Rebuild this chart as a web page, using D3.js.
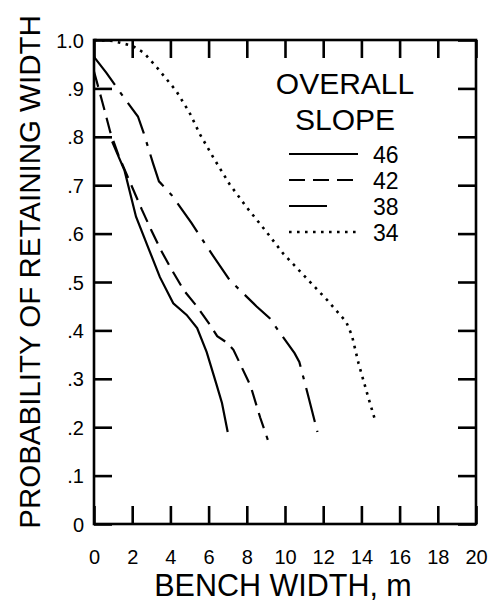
<!DOCTYPE html>
<html>
<head>
<meta charset="utf-8">
<script src="https://cdn.jsdelivr.net/npm/d3@7"></script>
<style>
  body { margin: 0; background: #fff; }
  svg { display: block; font-family: "Liberation Sans", Arial, sans-serif; }
</style>
</head>
<body>
<svg id="chart" width="495" height="600"></svg>
<script>
// overall slope of each curve (legend order)
const slopes = ["46", "42", "38", "34"];

// bench width (m) and probability of retaining width
const width46 = [0.95, 1.6, 2.2, 2.9, 3.45, 4.15, 4.85, 5.4, 5.9, 6.4, 6.7, 7.0];
const prob46 = [0.79, 0.73, 0.635, 0.565, 0.51, 0.456, 0.432, 0.405, 0.355, 0.29, 0.25, 0.19];

const width42 = [0, 0.45, 0.85, 1.3, 1.9, 2.5, 3.0, 3.5, 4.0, 4.7, 5.4, 6.1, 6.45, 6.95, 7.3, 7.6, 8.2, 8.7, 9.1];
const prob42 = [0.935, 0.87, 0.81, 0.76, 0.705, 0.65, 0.607, 0.566, 0.53, 0.483, 0.449, 0.41, 0.388, 0.375, 0.36, 0.335, 0.285, 0.22, 0.174];

const width38 = [0, 0.65, 1.15, 1.7, 2.3, 2.6, 3.1, 3.4, 4.1, 5.1, 6.15, 7.1, 8.5, 9.2, 9.7, 10.5, 10.75, 11.2, 11.7];
const prob38 = [0.965, 0.932, 0.904, 0.874, 0.842, 0.808, 0.744, 0.708, 0.678, 0.622, 0.559, 0.504, 0.45, 0.425, 0.397, 0.353, 0.335, 0.267, 0.19];

const width34 = [0, 1.0, 2.0, 2.6, 3.3, 4.3, 5.0, 5.55, 6.25, 7.1, 8.0, 9.0, 9.9, 11.05, 12.2, 13.2, 13.5, 13.85, 14.35, 14.75];
const prob34 = [1.0, 0.998, 0.988, 0.974, 0.943, 0.895, 0.85, 0.805, 0.757, 0.702, 0.654, 0.605, 0.559, 0.511, 0.463, 0.418, 0.39, 0.332, 0.263, 0.21];

// axis ticks
const widthTicks = [0, 2, 4, 6, 8, 10, 12, 14, 16, 18, 20];
const probTicks = [0, 0.1, 0.2, 0.3, 0.4, 0.5, 0.6, 0.7, 0.8, 0.9, 1.0];
const probLabels = ["0", ".1", ".2", ".3", ".4", ".5", ".6", ".7", ".8", ".9", "1.0"];

const width = 495;
const height = 600;
const margin = { top: 40, right: 19, bottom: 76, left: 94 };
const innerWidth = width - margin.left - margin.right;
const innerHeight = height - margin.top - margin.bottom;
const fontFamily = "'Liberation Sans', Arial, sans-serif";

const series = [
  { slope: slopes[0], xs: width46, ys: prob46, dash: null },
  { slope: slopes[1], xs: width42, ys: prob42, dash: "16,8" },
  { slope: slopes[2], xs: width38, ys: prob38, dash: "35,9,4,9" },
  { slope: slopes[3], xs: width34, ys: prob34, dash: "2.6,5.4" }
];

const svg = d3.select("#chart");
const g = svg.append("g")
  .attr("transform", `translate(${margin.left},${margin.top})`);

const xScale = d3.scaleLinear().domain([0, 20]).range([0, innerWidth]);
const yScale = d3.scaleLinear().domain([0, 1]).range([innerHeight, 0]);

// inward ticks on all four sides
const tickLen = -18;
const bottomAxis = d3.axisBottom(xScale)
  .tickValues(widthTicks).tickSize(tickLen).tickSizeOuter(0).tickPadding(26)
  .tickFormat(d3.format("d"));
const leftAxis = d3.axisLeft(yScale)
  .tickValues(probTicks).tickSize(tickLen).tickSizeOuter(0).tickPadding(10)
  .tickFormat((d, i) => probLabels[i]);
const topAxis = d3.axisTop(xScale)
  .tickValues(widthTicks).tickSize(tickLen).tickSizeOuter(0);
const rightAxis = d3.axisRight(yScale)
  .tickValues(probTicks).tickSize(tickLen).tickSizeOuter(0);

g.append("g").attr("class", "axis axis-x")
  .attr("transform", `translate(0,${innerHeight})`).call(bottomAxis);
g.append("g").attr("class", "axis axis-y").call(leftAxis);
g.append("g").attr("class", "axis axis-top").call(topAxis);
g.append("g").attr("class", "axis axis-right")
  .attr("transform", `translate(${innerWidth},0)`).call(rightAxis);

// top and right sides only carry tick marks
g.selectAll(".axis-top text, .axis-right text").remove();

g.selectAll(".domain").remove();
g.selectAll(".tick line").attr("stroke", "#000").attr("stroke-width", 2.6);
g.selectAll(".tick text")
  .attr("fill", "#000").attr("dy", null)
  .attr("font-size", 20).attr("font-family", fontFamily);
g.selectAll(".axis-x .tick text").attr("y", 40).attr("text-anchor", "middle");
g.selectAll(".axis-y .tick text").attr("y", 7).attr("text-anchor", "end");

g.append("rect")
  .attr("width", innerWidth).attr("height", innerHeight)
  .attr("fill", "none").attr("stroke", "#000").attr("stroke-width", 2.6);

// curves
const lineGenerator = d3.line()
  .x((d) => xScale(d[0]))
  .y((d) => yScale(d[1]));

g.selectAll(".curve")
  .data(series)
  .join("path")
  .attr("class", "curve")
  .attr("d", (s) => lineGenerator(d3.zip(s.xs, s.ys)))
  .attr("fill", "none")
  .attr("stroke", "#000")
  .attr("stroke-width", (s) => (s.slope === "34" ? 2.6 : 2.2))
  .attr("stroke-dasharray", (s) => s.dash);

// legend
const legend = g.append("g").attr("transform", "translate(251,0)")
  .attr("font-family", fontFamily);
legend.append("text").attr("x", 0).attr("y", 54).attr("text-anchor", "middle")
  .attr("font-size", 30).text("OVERALL");
legend.append("text").attr("x", 0).attr("y", 90).attr("text-anchor", "middle")
  .attr("font-size", 30).text("SLOPE");

const rows = legend.selectAll(".legend-row")
  .data(series)
  .join("g")
  .attr("class", "legend-row")
  .attr("transform", (s, i) => `translate(0,${114 + i * 26})`);
rows.append("line")
  .attr("x1", -56).attr("x2", (s) => (s.slope === "38" ? -5 : 13))
  .attr("stroke", "#000")
  .attr("stroke-width", (s) => (s.slope === "34" ? 2.6 : 2.2))
  .attr("stroke-dasharray", (s) => (s.slope === "38" ? "38,13,4,40" : s.dash));
rows.append("text")
  .attr("x", 28).attr("y", 9)
  .attr("font-size", 23)
  .text((s) => s.slope);

// axis titles
svg.append("text")
  .attr("x", 283).attr("y", 596)
  .attr("text-anchor", "middle")
  .attr("font-family", fontFamily)
  .attr("font-size", 30.5)
  .text("BENCH WIDTH, m");

svg.append("text")
  .attr("transform", "translate(40,272) rotate(-90)")
  .attr("text-anchor", "middle")
  .attr("font-family", fontFamily)
  .attr("font-size", 29.5)
  .text("PROBABILITY OF RETAINING WIDTH");
</script>
</body>
</html>
